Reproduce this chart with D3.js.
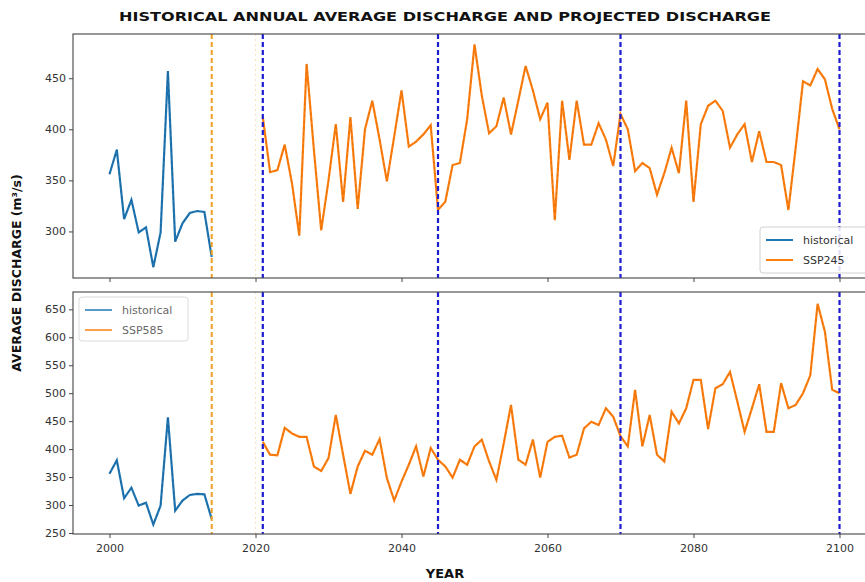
<!DOCTYPE html>
<html>
	<head>
		<meta charset="utf-8">
		<title>Historical and projected discharge</title>
		<script src="https://d3js.org/d3.v7.min.js"></script>
		<style>
			html, body
			{
				margin: 0;
				background: #fff;
				overflow: hidden;
			}

			#chart
			{
				display: block;
			}

			text
			{
				font-family: "DejaVu Sans", sans-serif;
			}
		</style>
	</head>
	<body>
		<svg id="chart" width="865" height="582"></svg>

		<script>
			// data
			const histYears = [2000, 2001, 2002, 2003, 2004, 2005, 2006, 2007, 2008, 2009, 2010, 2011, 2012, 2013, 2014];
			const historical = [356, 380, 312, 331, 299, 304, 265, 299, 457, 290, 308, 318, 320, 319, 275];

			const projYears = [
				2021, 2022, 2023, 2024, 2025, 2026, 2027, 2028, 2029, 2030,
				2031, 2032, 2033, 2034, 2035, 2036, 2037, 2038, 2039, 2040,
				2041, 2042, 2043, 2044, 2045, 2046, 2047, 2048, 2049, 2050,
				2051, 2052, 2053, 2054, 2055, 2056, 2057, 2058, 2059, 2060,
				2061, 2062, 2063, 2064, 2065, 2066, 2067, 2068, 2069, 2070,
				2071, 2072, 2073, 2074, 2075, 2076, 2077, 2078, 2079, 2080,
				2081, 2082, 2083, 2084, 2085, 2086, 2087, 2088, 2089, 2090,
				2091, 2092, 2093, 2094, 2095, 2096, 2097, 2098, 2099, 2100];

			const ssp245 = [
				412, 358, 360, 385, 347, 296, 464, 380, 301, 350,
				405, 329, 412, 322, 400, 428, 390, 349, 393, 438,
				383, 388, 395, 404, 321, 329, 365, 367, 410, 483,
				433, 396, 403, 431, 395, 428, 462, 438, 410, 426,
				311, 428, 370, 428, 385, 385, 406, 390, 364, 415,
				400, 359, 367, 362, 336, 357, 382, 357, 428, 329,
				405, 423, 428, 418, 382, 395, 405, 368, 398, 368,
				368, 365, 321, 382, 447, 443, 459, 449, 420, 400];

			const ssp585 = [
				413, 390, 389, 438, 428, 422, 422, 369, 361, 384,
				461, 390, 320, 369, 397, 390, 418, 348, 308, 342,
				372, 405, 351, 402, 381, 369, 349, 381, 372, 405,
				417, 378, 345, 410, 479, 381, 372, 417, 349, 413,
				422, 424, 385, 390, 437, 449, 443, 473, 458, 423,
				405, 506, 405, 461, 390, 378, 467, 446, 473, 524,
				524, 436, 509, 516, 538, 485, 431, 473, 516, 431,
				431, 518, 473, 479, 500, 532, 660, 610, 506, 500];

			const histEnd = [2014];
			const periodMarks = [2021, 2045, 2070, 2100];
			const xTicks = [2000, 2020, 2040, 2060, 2080, 2100];
			const topTicks = [300, 350, 400, 450];
			const bottomTicks = [250, 300, 350, 400, 450, 500, 550, 600, 650];

			const blue = "#1f77b4", orange = "#ff7f0e";

			const svg = d3.select("#chart");
			const left = 73, right = 876;

			const x = d3.scaleLinear().domain([1995, 2105]).range([left, right]);

			const panels = [
				{top: 34, bottom: 278, domain: [254.4, 493.3], ticks: topTicks, series: ssp245, name: "SSP245", labels: false},
				{top: 292, bottom: 534, domain: [248.2, 681], ticks: bottomTicks, series: ssp585, name: "SSP585", labels: true}
			];

			const line = (y) => d3.line().x(d => x(d[0])).y(d => y(d[1]));

			panels.forEach((p, i) =>
			{
				const y = d3.scaleLinear().domain(p.domain).range([p.bottom, p.top]);
				const g = svg.append("g");

				// axes
				const yAxis = g.append("g")
					.attr("transform", `translate(${left},0)`)
					.call(d3.axisLeft(y).tickValues(p.ticks).tickSize(4).tickPadding(3));

				const xAxis = g.append("g")
					.attr("transform", `translate(0,${p.bottom})`)
					.call(d3.axisBottom(x).tickValues(xTicks).tickFormat(p.labels ? d3.format("d") : "").tickSize(4).tickPadding(6));

				[yAxis, xAxis].forEach(a =>
				{
					a.select(".domain").remove();
					a.selectAll("line").attr("stroke", "#444");
					a.selectAll("text").attr("fill", "#333").style("font-size", "11px");
				});

				// faint helper line near 2020
				g.append("line")
					.attr("x1", x(2020)).attr("x2", x(2020))
					.attr("y1", p.top).attr("y2", p.bottom)
					.attr("stroke", "#f4c48a").attr("stroke-width", 1)
					.attr("stroke-dasharray", "2,3").attr("opacity", 0.5);

				// series
				const histPts = histYears.map((yr, k) => [yr, historical[k]]);
				const projPts = projYears.map((yr, k) => [yr, p.series[k]]);

				g.append("path").attr("d", line(y)(histPts))
					.attr("fill", "none").attr("stroke", blue).attr("stroke-width", 2.2);
				g.append("path").attr("d", line(y)(histPts))
					.attr("fill", "none").attr("stroke", "#174d78").attr("stroke-width", 0.8)
					.attr("stroke-dasharray", "3,3").attr("opacity", 0.6);

				g.append("path").attr("d", line(y)(projPts))
					.attr("fill", "none").attr("stroke", orange).attr("stroke-width", 2.2);
				g.append("path").attr("d", line(y)(projPts))
					.attr("fill", "none").attr("stroke", "#b35a10").attr("stroke-width", 0.8)
					.attr("stroke-dasharray", "3,3").attr("opacity", 0.5);

				// vertical markers
				g.selectAll(".hist-end")
					.data(histEnd)
					.enter().append("line")
						.attr("x1", d => x(d)).attr("x2", d => x(d))
						.attr("y1", p.top).attr("y2", p.bottom)
						.attr("stroke", "#f0a020").attr("stroke-width", 2)
						.attr("stroke-dasharray", "5,3");

				g.selectAll(".period")
					.data(periodMarks)
					.enter().append("line")
						.attr("x1", d => x(d)).attr("x2", d => x(d))
						.attr("y1", p.top).attr("y2", p.bottom)
						.attr("stroke", "#1c1cd0").attr("stroke-width", 2.2)
						.attr("stroke-dasharray", "5,3");

				// frame
				g.append("rect")
					.attr("x", left).attr("y", p.top)
					.attr("width", right - left).attr("height", p.bottom - p.top)
					.attr("fill", "none").attr("stroke", "#444").attr("stroke-width", 1.1);

				// legend
				const lg = svg.append("g");
				if (i === 0)
				{
					lg.attr("transform", "translate(760,227)");
					lg.append("rect").attr("width", 120).attr("height", 46).attr("rx", 3)
						.attr("fill", "#fff").attr("fill-opacity", 0.85).attr("stroke", "#d0d0d0");
				}
				else
				{
					lg.attr("transform", "translate(79,297)").attr("opacity", 0.75);
					lg.append("rect").attr("width", 109).attr("height", 44).attr("rx", 3)
						.attr("fill", "#fff").attr("fill-opacity", 0.85).attr("stroke", "#d0d0d0");
				}
				[["historical", blue], [p.name, orange]].forEach((e, k) =>
				{
					const yy = 13 + k * 20;
					lg.append("line").attr("x1", 6).attr("x2", 33).attr("y1", yy).attr("y2", yy)
						.attr("stroke", e[1]).attr("stroke-width", 2);
					lg.append("text").attr("x", 43).attr("y", yy + 4)
						.attr("fill", "#333").style("font-size", "11px").text(e[0]);
				});
			});

			// titles
			svg.append("text")
				.attr("x", 445).attr("y", 21)
				.attr("text-anchor", "middle")
				.attr("textLength", 652).attr("lengthAdjust", "spacingAndGlyphs")
				.style("font-size", "13px").style("font-weight", "bold")
				.attr("fill", "#111")
				.text("HISTORICAL ANNUAL AVERAGE DISCHARGE AND PROJECTED DISCHARGE");

			svg.append("text")
				.attr("x", 445).attr("y", 578)
				.attr("text-anchor", "middle")
				.style("font-size", "13px").style("font-weight", "bold")
				.attr("fill", "#111")
				.text("YEAR");

			svg.append("text")
				.attr("transform", "translate(21,273) rotate(-90)")
				.attr("text-anchor", "middle")
				.style("font-size", "12.5px").style("font-weight", "bold")
				.attr("fill", "#111")
				.text("AVERAGE DISCHARGE (m³/s)");
		</script>
	</body>
</html>
